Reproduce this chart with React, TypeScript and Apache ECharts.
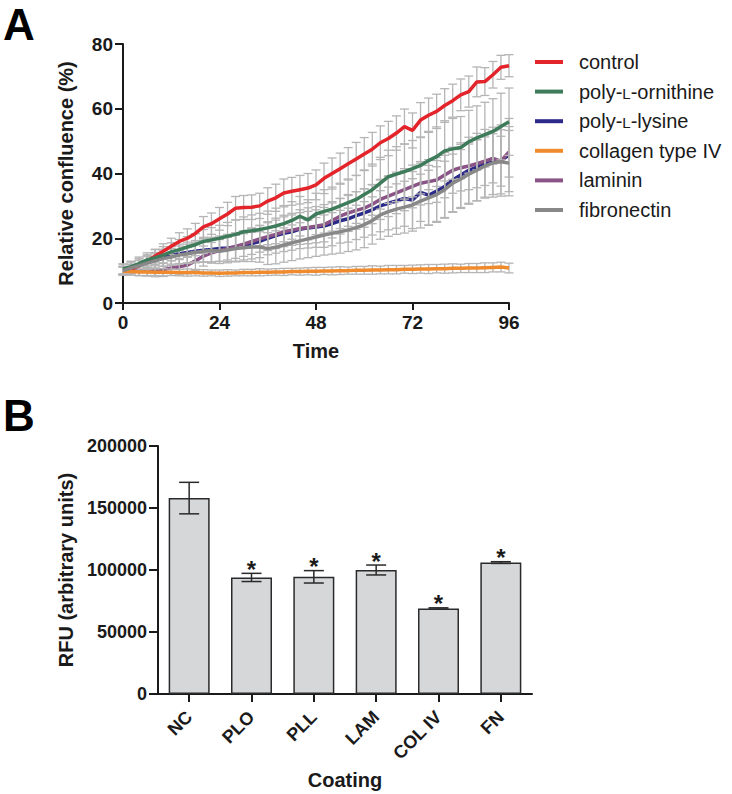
import React, { useEffect, useRef } from "react";
import * as echarts from "echarts";

// ---------- Panel A data ----------
const timePoints = [0,2,4,6,8,10,12,14,16,18,20,22,24,26,28,30,32,34,36,38,40,42,44,46,48,50,52,54,56,58,60,62,64,66,68,70,72,74,76,78,80,82,84,86,88,90,92,94,96];
const seriesNames = ["control", "poly-L-ornithine", "poly-L-lysine", "collagen type IV", "laminin", "fibronectin"];
const seriesColors = ["#e3252b", "#3e7b5a", "#2c2b8a", "#f08b2d", "#8a5486", "#888888"];

const controlMean = [10,10.5,11.5,13,14.5,16,17.5,19,20,21.5,23.5,24.5,26,27.5,29.3,29.5,29.6,30,31.5,32.5,34,34.5,35,35.5,36.5,38.5,40,41.5,43,44.5,46,47.5,49.5,50.8,52.5,54.5,53.3,56.5,58,59.2,61,62.5,64.3,65.3,68.3,68.4,70.5,72.8,73.3];
const ploMean = [10.5,11.2,12.2,13.3,14,14.8,15.8,16.5,17.3,18,19,19.5,20,20.6,21.2,22,22.3,22.7,23.2,23.8,24.5,25.5,26.8,25.7,27.5,28.3,29,30,31,32,33.5,35,37,39,39.8,40.6,41.5,42.5,44,45.2,47,47.6,48,49.8,51,52,53,54.5,56];
const pllMean = [10.5,11,11.8,12.5,13.2,14,14.7,15.2,15.6,16,16.3,16.5,16.8,17,17.3,17.8,18.4,19,20,20.8,21.5,22,22.8,23.2,23.5,23.8,24.5,25.4,26,27,27.8,28.8,30,30.8,31.5,32.3,31.8,34.2,33.3,34.6,36,38,39.5,41,42,43,43.5,44,45.7];
const colMean = [9.8,9.7,9.6,9.6,9.5,9.5,9.5,9.4,9.4,9.4,9.3,9.3,9.2,9.3,9.3,9.4,9.4,9.5,9.5,9.6,9.6,9.7,9.7,9.8,9.8,9.9,9.9,10,10,10.1,10.1,10.2,10.2,10.3,10.3,10.4,10.4,10.5,10.5,10.6,10.6,10.7,10.7,10.8,10.8,10.9,11,11.1,10.8];
const lamMean = [10,10,10,10,10,10.3,10.8,11.2,11.7,13,14.5,15.5,16.2,16.8,17.5,18.2,19,19.8,20.5,21.2,22,22.5,23,23.3,23.7,24.2,25.5,26.8,27.8,28.6,29.3,30.5,32,33,34,35,36,37,37.5,38,39.5,41,41.8,42.3,43,43.8,44.7,43.8,46.7];
const fnMean = [10,10.8,11.5,12.3,13,13.7,14.2,14.8,15.2,15.6,16,16.2,16,16.4,16.8,17.1,17.3,17.3,16.8,17.2,17.9,18.6,19.2,19.8,20.4,21,21.5,22,22.6,23.3,24.2,25.5,27.2,28.2,29,29.6,30.3,31.5,32.5,33.5,35,37,38.3,39.8,41,42.3,43.3,43.6,43.2];

const controlSd = [1.2,1.4,1.6,1.9,2.1,2.3,2.5,2.7,2.9,3.1,3.2,3.3,3.5,3.6,3.6,3.7,3.8,3.9,4.1,4.2,4.3,4.3,4.4,4.5,4.6,4.7,4.8,4.8,5,5.1,5.1,5.2,5.2,5.3,5.3,5.4,5.4,5.4,5.3,5.3,5.2,5.1,4.9,4.8,4.6,4.3,4.1,3.7,3.4];
const ploSd = [1.5,1.7,2,2.2,2.5,2.6,2.8,3.1,3.2,3.4,3.7,3.8,4,4.3,4.4,4.6,4.9,5,5.2,5.5,5.6,5.8,6.1,6.2,6.4,6.7,6.8,7,7.3,7.4,7.6,7.9,8,8.2,8.5,8.5,8.7,8.8,9,9.2,9.3,9.4,9.6,9.7,9.9,10,10.1,10.3,10.4];
const pllSd = [1.6,1.8,2,2.1,2.4,2.6,2.7,3,3.2,3.3,3.6,3.8,3.9,4.2,4.4,4.5,4.8,5,5.1,5.4,5.6,5.7,6,6.2,6.3,6.6,6.8,6.9,7.2,7.4,7.5,7.8,8,8.2,8.4,8.6,8.8,9,9.2,9.4,9.6,9.8,10,10.2,10.4,10.6,10.8,11,11.3];
const colSd = [1.2,1.1,1.2,1.1,1,1.1,1,1,1.1,1,1,0.9,1,1,0.9,1,1,1.1,1,1,1.1,1,1.1,1.1,1.2,1.1,1.2,1.2,1.1,1.2,1.2,1.3,1.2,1.3,1.3,1.2,1.3,1.3,1.4,1.3,1.4,1.4,1.3,1.4,1.4,1.5,1.4,1.5,1.5];
const lamSd = [1.2,1.3,1.5,1.7,1.9,2.1,2.3,2.5,2.7,2.9,3.1,3.2,3.4,3.5,3.7,3.8,4,4.1,4.3,4.4,4.6,4.7,4.9,5,5.1,5.3,5.4,5.5,5.7,5.8,5.9,6,6.2,6.3,6.4,6.5,6.6,6.7,6.8,6.9,7,7.1,7.2,7.3,7.4,7.5,7.6,7.7,7.8];
const fnSd = [1.4,1.6,1.8,2,2.2,2.4,2.6,2.8,3,3.2,3.4,3.6,3.8,4,4.1,4.3,4.5,4.7,4.9,5.1,5.3,5.5,5.6,5.8,6,6.2,6.4,6.6,6.7,6.9,7.1,7.3,7.5,7.6,7.8,8,8.1,8.3,8.5,8.6,8.8,9,9.1,9.3,9.5,9.6,9.8,9.9,10.1];

const timeTicks = [0, 24, 48, 72, 96];
const confluenceTicks = [0, 20, 40, 60, 80];

// ---------- Panel B data ----------
const coatings = ["NC", "PLO", "PLL", "LAM", "COL IV", "FN"];
const rfuMean = [158000, 94000, 94500, 100000, 69000, 106000];
const rfuErr = [12700, 3300, 5000, 4000, 500, 700];
const rfuSignificance = ["", "*", "*", "*", "*", "*"];
const rfuTicks = [0, 50000, 100000, 150000, 200000];

const FONT = 'Arial, "Liberation Sans", Helvetica, sans-serif';

export default function App() {
  const ref = useRef<HTMLDivElement>(null);

  useEffect(() => {
    if (!ref.current) return;
    const chart = echarts.init(ref.current, undefined, { renderer: "svg" });

    const means = [controlMean, ploMean, pllMean, colMean, lamMean, fnMean];
    const sds = [controlSd, ploSd, pllSd, colSd, lamSd, fnSd];

    const axisLineStyle = { color: "#1a1a1a", width: 2 };
    const tickLabel = { fontFamily: FONT, fontWeight: "bold" as const, color: "#1a1a1a" };
    const titleStyle = { fontFamily: FONT, fontWeight: "bold" as const, fontSize: 20, color: "#1a1a1a" };

    const errSeries = means.map((m, i) => ({
      type: "custom",
      name: seriesNames[i] + " err",
      xAxisIndex: 0,
      yAxisIndex: 0,
      z: 2,
      silent: true,
      data: timePoints.map((t, k) => [t, m[k] - sds[i][k], m[k] + sds[i][k]]),
      encode: { x: 0, y: [1, 2] },
      renderItem: (params: any, api: any) => {
        const x = api.value(0);
        const lo = api.coord([x, api.value(1)]);
        const hi = api.coord([x, api.value(2)]);
        const hw = 4.5;
        const style = { stroke: "#b5b5b5", lineWidth: 1.3, fill: "none" };
        return {
          type: "group",
          children: [
            { type: "line", shape: { x1: lo[0], y1: lo[1], x2: hi[0], y2: hi[1] }, style },
            { type: "line", shape: { x1: lo[0] - hw, y1: lo[1], x2: lo[0] + hw, y2: lo[1] }, style },
            { type: "line", shape: { x1: hi[0] - hw, y1: hi[1], x2: hi[0] + hw, y2: hi[1] }, style },
          ],
        };
      },
    }));

    const lineSeries = means.map((m, i) => ({
      type: "line",
      name: seriesNames[i],
      xAxisIndex: 0,
      yAxisIndex: 0,
      z: i === 2 || i === 4 ? 1 : 3,
      showSymbol: false,
      symbol: "none",
      silent: true,
      lineStyle: { color: seriesColors[i], width: 3.5 },
      itemStyle: { color: seriesColors[i] },
      data: timePoints.map((t, k) => [t, m[k]]),
    }));

    const legendGraphics: any[] = [];
    seriesNames.forEach((name, i) => {
      const y = 62 + i * 29.6;
      legendGraphics.push({
        type: "rect",
        left: 535,
        top: y - 2,
        shape: { width: 28, height: 4 },
        style: { fill: seriesColors[i] },
      });
      legendGraphics.push({
        type: "text",
        x: 579,
        y: y,
        style: {
          text: name.replace("-L-", "-{sc|L}-"),
          fontFamily: FONT,
          fontSize: 20,
          fill: "#1a1a1a",
          verticalAlign: "middle",
          rich: { sc: { fontFamily: FONT, fontSize: 15, fill: "#1a1a1a", verticalAlign: "bottom", padding: [0, 0, 1, 0] } },
        },
      });
    });

    const option: any = {
      animation: false,
      backgroundColor: "#ffffff",
      grid: [
        { left: 123, top: 44, width: 386, height: 259 },
        { left: 158, top: 446, width: 374, height: 248 },
      ],
      xAxis: [
        {
          type: "value",
          gridIndex: 0,
          min: 0,
          max: 96,
          interval: 24,
          name: "Time",
          nameLocation: "middle",
          nameGap: 38,
          nameTextStyle: titleStyle,
          axisLine: { show: true, onZero: false, lineStyle: axisLineStyle },
          axisTick: { show: true, length: 7, lineStyle: { color: "#1a1a1a", width: 2 }, customValues: timeTicks },
          axisLabel: { ...tickLabel, fontSize: 19, margin: 10, customValues: timeTicks },
          splitLine: { show: false },
        },
        {
          type: "category",
          gridIndex: 1,
          data: coatings,
          name: "Coating",
          nameLocation: "middle",
          nameGap: 76,
          nameTextStyle: titleStyle,
          axisLine: { show: true, lineStyle: axisLineStyle },
          axisTick: { show: true, alignWithLabel: true, length: 8, lineStyle: { color: "#1a1a1a", width: 2 } },
          axisLabel: { ...tickLabel, fontSize: 18, rotate: 45, margin: 20, interval: 0 },
          splitLine: { show: false },
        },
      ],
      yAxis: [
        {
          type: "value",
          gridIndex: 0,
          min: 0,
          max: 80,
          interval: 20,
          name: "Relative confluence (%)",
          nameLocation: "middle",
          nameGap: 47,
          nameTextStyle: titleStyle,
          axisLine: { show: true, lineStyle: axisLineStyle },
          axisTick: { show: true, length: 8, lineStyle: { color: "#1a1a1a", width: 2 }, customValues: confluenceTicks },
          axisLabel: { ...tickLabel, fontSize: 19, margin: 10, customValues: confluenceTicks },
          splitLine: { show: false },
        },
        {
          type: "value",
          gridIndex: 1,
          min: 0,
          max: 200000,
          interval: 50000,
          name: "RFU (arbitrary units)",
          nameLocation: "middle",
          nameGap: 82,
          nameTextStyle: titleStyle,
          axisLine: { show: true, lineStyle: axisLineStyle },
          axisTick: { show: true, length: 9, lineStyle: { color: "#1a1a1a", width: 2 }, customValues: rfuTicks },
          axisLabel: { ...tickLabel, fontSize: 18, margin: 11, customValues: rfuTicks, formatter: (v: number) => String(v) },
          splitLine: { show: false },
        },
      ],
      graphic: [
        { type: "text", left: 3, top: 2, style: { text: "A", fontFamily: FONT, fontWeight: "bold", fontSize: 44, fill: "#000" } },
        { type: "text", left: 3, top: 393, style: { text: "B", fontFamily: FONT, fontWeight: "bold", fontSize: 44, fill: "#000" } },
        ...legendGraphics,
      ],
      series: [
        ...errSeries,
        ...lineSeries,
        {
          type: "bar",
          name: "RFU",
          xAxisIndex: 1,
          yAxisIndex: 1,
          barWidth: 41,
          silent: true,
          itemStyle: { color: "#d6d7d9", borderColor: "#2a2a2a", borderWidth: 1.5 },
          data: rfuMean,
          z: 2,
        },
        {
          type: "custom",
          name: "RFU err",
          xAxisIndex: 1,
          yAxisIndex: 1,
          z: 3,
          silent: true,
          data: coatings.map((c, i) => [i, rfuMean[i], rfuErr[i]]),
          encode: { x: 0, y: 1 },
          renderItem: (params: any, api: any) => {
            const idx = api.value(0);
            const m = api.value(1);
            const e = api.value(2);
            const top = api.coord([idx, m + e]);
            const bot = api.coord([idx, m - e]);
            const hw = 10;
            const style = { stroke: "#2a2a2a", lineWidth: 1.5, fill: "none" };
            const children: any[] = [
              { type: "line", shape: { x1: top[0], y1: top[1], x2: bot[0], y2: bot[1] }, style },
              { type: "line", shape: { x1: top[0] - hw, y1: top[1], x2: top[0] + hw, y2: top[1] }, style },
              { type: "line", shape: { x1: bot[0] - hw, y1: bot[1], x2: bot[0] + hw, y2: bot[1] }, style },
            ];
            const sig = rfuSignificance[params.dataIndex];
            if (sig) {
              children.push({
                type: "text",
                x: top[0],
                y: top[1] - 4,
                style: {
                  text: sig,
                  fontFamily: FONT,
                  fontWeight: "bold",
                  fontSize: 24,
                  fill: "#1a1a1a",
                  align: "center",
                  verticalAlign: "middle",
                },
              });
            }
            return { type: "group", children };
          },
        },
      ],
    };

    chart.setOption(option);
    return () => chart.dispose();
  }, []);

  return <div ref={ref} style={{ position: "absolute", left: 0, top: 0, width: 732, height: 794 }} />;
}
